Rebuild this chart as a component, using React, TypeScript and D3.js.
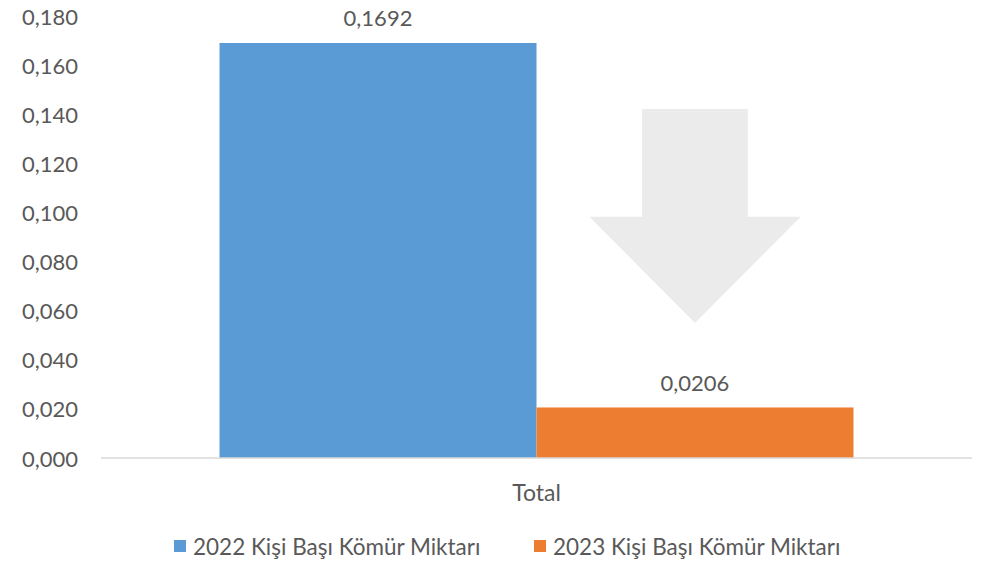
import React from "react";
import * as d3 from "d3";

const categories = ["Total"];
const seriesNames = ["2022 Kişi Başı Kömür Miktarı", "2023 Kişi Başı Kömür Miktarı"];
const seriesValues = [0.1692, 0.0206];
const seriesColors = ["#5b9bd5", "#ed7d31"];
const yTicks = [0, 0.02, 0.04, 0.06, 0.08, 0.1, 0.12, 0.14, 0.16, 0.18];
// decorative down arrow (value units): top of shaft, start of head, tip
const arrowLevels = { top: 0.1423, head: 0.0984, tip: 0.055 };

const W = 981;
const H = 566;
const FONT = "Lato, 'Open Sans', sans-serif";
const TEXT = "#595959";

const fmt = (v: number, d: number) => v.toFixed(d).replace(".", ",");

export default function App() {
  const x = d3.scaleBand<string>().domain(categories).range([101, 972]).paddingInner(0.1575).paddingOuter(0.1575);
  const y = d3.scaleLinear().domain([0, 0.18]).range([458, 16.5]);
  const x1 = d3.scaleBand<number>().domain(seriesValues.map((_, i) => i)).range([0, x.bandwidth()]);

  const cat = categories[0];
  const bx = x(cat)!;
  const bw = x1.bandwidth();
  // arrow above 2023 bar
  const cx = bx + x1(1)! + bw / 2;
  const arrowPts: [number, number][] = [
    [cx - bw / 6, y(arrowLevels.top)],
    [cx + bw / 6, y(arrowLevels.top)],
    [cx + bw / 6, y(arrowLevels.head)],
    [cx + bw / 3, y(arrowLevels.head)],
    [cx, y(arrowLevels.tip)],
    [cx - bw / 3, y(arrowLevels.head)],
    [cx - bw / 6, y(arrowLevels.head)],
  ];

  const legendX = [174, 534];

  return (
    <svg width={W} height={H} style={{ position: "absolute", left: 0, top: 0, background: "#fff" }} fontFamily={FONT}>
      <rect width={W} height={H} fill="#fff" />
      {yTicks.map((t) => (
        <text key={t} x={78} y={y(t)} textAnchor="end" dominantBaseline="central" fontSize={22} fill={TEXT}>
          {fmt(t, 3)}
        </text>
      ))}
      {seriesValues.map((v, i) => (
        <rect key={i} x={bx + x1(i)!} y={y(v)} width={bw} height={y(0) - y(v)} fill={seriesColors[i]} />
      ))}
      <line x1={101} x2={972} y1={y(0)} y2={y(0)} stroke="#d9d9d9" strokeWidth={1.5} />
      <polygon points={arrowPts.map((p) => p.join(",")).join(" ")} fill="#ebebeb" />
      {seriesValues.map((v, i) => (
        <text key={i} x={bx + x1(i)! + bw / 2} y={y(v) - 25} textAnchor="middle" dominantBaseline="central" fontSize={22} fill={TEXT}>
          {fmt(v, 4)}
        </text>
      ))}
      <text x={bx + x.bandwidth() / 2} y={492} textAnchor="middle" dominantBaseline="central" fontSize={23} fill={TEXT}>
        {cat}
      </text>
      {seriesNames.map((n, i) => (
        <g key={n} transform={`translate(${legendX[i]},540)`}>
          <rect width={12} height={12} fill={seriesColors[i]} />
          <text x={19} y={6} dominantBaseline="central" fontSize={22.5} fill={TEXT}>
            {n}
          </text>
        </g>
      ))}
    </svg>
  );
}
